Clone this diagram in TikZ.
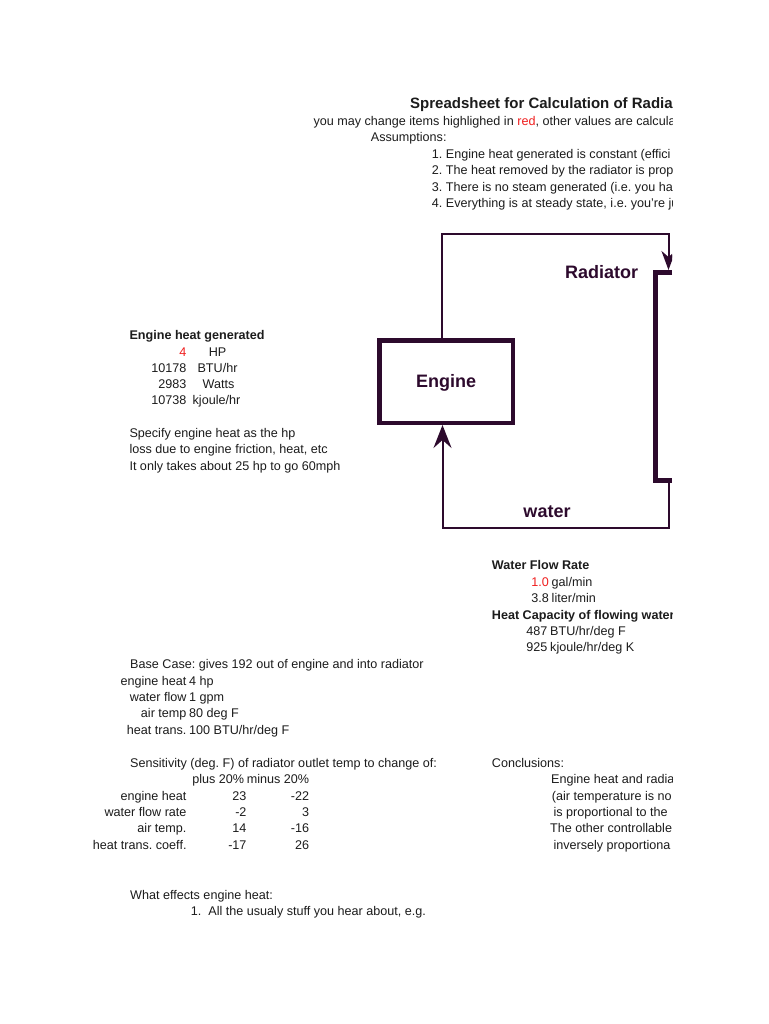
\documentclass[tikz,border=0pt]{standalone}
\usepackage{fontspec}
\setmainfont{Liberation Sans}
\usetikzlibrary{arrows.meta}
\definecolor{ink}{RGB}{28,28,28}
\definecolor{redc}{RGB}{240,30,30}
\definecolor{plum}{RGB}{45,10,45}
\frenchspacing
\begin{document}
\begin{tikzpicture}[x=1pt,y=-1pt,
  tl/.style={font=\fontsize{12.6}{15}\selectfont\frenchspacing,inner sep=0pt,text=ink,anchor=base west},
  tr/.style={tl,anchor=base east},
  tc/.style={tl,anchor=base},
  tb/.style={tl,font=\fontsize{12.6}{15}\selectfont\bfseries},
  ttl/.style={tl,font=\fontsize{15}{18}\selectfont\bfseries},
  lab/.style={inner sep=0pt,text=plum,anchor=base,font=\fontsize{18}{21}\selectfont\bfseries},
  pipe/.style={draw=plum,line width=2pt},
  enginebox/.style={draw=plum,line width=4.5pt,minimum width=133.5pt,minimum height=82.5pt,inner sep=0pt},
  radbracket/.style={draw=plum,line width=5pt,line cap=butt,line join=miter},
  tipA/.style={-{Stealth[length=23pt,width=18pt,inset=8pt]}},
  tipB/.style={-{Stealth[length=19pt,width=14pt,inset=6pt]}}]
\useasboundingbox (0,0) rectangle (768,1024);
\fill[white] (0,0) rectangle (768,1024);
\begin{scope}
\clip (0,0) rectangle (672,1024);
% header
\node[ttl] (title) at (410,108.5) {Spreadsheet for Calculation of Radia};
\node[tl] (h1) at (313.3,126) {you may change items highlighed in \textcolor{redc}{red}, other values are calcula};
\node[tl] (h2) at (370.7,142) {Assumptions:};
\node[tl] (a1) at (431.7,158.5) {1. Engine heat generated is constant (effici};
\node[tl] (a2) at (431.7,175) {2. The heat removed by the radiator is prop};
\node[tl] (a3) at (431.7,191.5) {3. There is no steam generated (i.e. you ha};
\node[tl] (a4) at (431.7,208) {4. Everything is at steady state, i.e. you're ju};
% engine heat block
\node[tb] (eh) at (129.3,339.5) {Engine heat generated};
\node[tr,text=redc] (v1) at (186.7,356) {4};
\node[tc] (u1) at (217.5,356) {HP};
\node[tr] (v2) at (186.7,372) {10178};
\node[tc] (u2) at (217.5,372) {BTU/hr};
\node[tr] (v3) at (186.7,388) {2983};
\node[tc] (u3) at (218.5,388) {Watts};
\node[tr] (v4) at (186.7,404.5) {10738};
\node[tc] (u4) at (216.5,404.5) {kjoule/hr};
\node[tl] (s1) at (129.3,437.5) {Specify engine heat as the hp};
\node[tl] (s2) at (129.3,453.5) {loss due to engine friction, heat, etc};
\node[tl] (s3) at (129.3,470) {It only takes about 25 hp to go 60mph};
% water flow block
\node[tb] (wf) at (491.7,569.5) {Water Flow Rate};
\node[tr,text=redc] (w1) at (549,586) {1.0};
\node[tl] (wu1) at (551.5,586) {gal/min};
\node[tr] (w2) at (549,602.5) {3.8};
\node[tl] (wu2) at (551.5,602.5) {liter/min};
\node[tb] (hc) at (491.7,619) {Heat Capacity of flowing water};
\node[tr] (c1) at (547.5,635.5) {487};
\node[tl] (cu1) at (550,635.5) {BTU/hr/deg F};
\node[tr] (c2) at (547.5,651.5) {925};
\node[tl] (cu2) at (550,651.5) {kjoule/hr/deg K};
% base case
\node[tl] (bc) at (130,668.5) {Base Case: gives 192 out of engine and into radiator};
\node[tr] (b1) at (186.7,685) {engine heat};
\node[tl] (bv1) at (189,685) {4 hp};
\node[tr] (b2) at (186.7,701.5) {water flow};
\node[tl] (bv2) at (189,701.5) {1 gpm};
\node[tr] (b3) at (186.7,717.5) {air temp};
\node[tl] (bv3) at (189,717.5) {80 deg F};
\node[tr] (b4) at (186.7,734) {heat trans.};
\node[tl] (bv4) at (189,734) {100 BTU/hr/deg F};
% sensitivity
\node[tl] (sn) at (130,767.5) {Sensitivity (deg. F) of radiator outlet temp to change of:};
\node[tr] (p1) at (244.3,783.5) {plus 20\%};
\node[tr] (p2) at (309.3,783.5) {minus 20\%};
\node[tr] (r1) at (186.7,800) {engine heat};
\node[tr] (r1a) at (246.7,800) {23};
\node[tr] (r1b) at (309.3,800) {-22};
\node[tr] (r2) at (186.7,816.5) {water flow rate};
\node[tr] (r2a) at (246.7,816.5) {-2};
\node[tr] (r2b) at (309.3,816.5) {3};
\node[tr] (r3) at (186.7,832.5) {air temp.};
\node[tr] (r3a) at (246.7,832.5) {14};
\node[tr] (r3b) at (309.3,832.5) {-16};
\node[tr] (r4) at (186.7,849) {heat trans. coeff.};
\node[tr] (r4a) at (246.7,849) {-17};
\node[tr] (r4b) at (309.3,849) {26};
% conclusions
\node[tl] (cn) at (491.7,767.5) {Conclusions:};
\node[tl] (cn1) at (551,783.5) {Engine heat and radia};
\node[tl] (cn2) at (551.7,800) {(air temperature is no};
\node[tl] (cn3) at (553.3,816.5) {is proportional to the};
\node[tl] (cn4) at (550,832.5) {The other controllable};
\node[tl] (cn5) at (553.3,849) {inversely proportiona};
% what effects
\node[tl] (we) at (130,899.5) {What effects engine heat:};
\node[tl] (we1) at (190.7,915.5) {1.\ \ All the usualy stuff you hear about, e.g.};
% diagram
\node[enginebox] (engine) at (446,381.5) {};
\node[lab] (englab) at (446,387.7) {Engine};
\node[lab] (radlab) at (601.5,278.3) {Radiator};
\node[lab] (waterlab) at (547,517.5) {water};
\coordinate (radin) at (668.5,270);
\coordinate (radout) at (668.5,483);
\coordinate (topcorner) at (668.5,234);
\coordinate (botcorner) at (668.5,527.5);
\draw[radbracket] (672,272.5) -- (655.5,272.5) -- (655.5,480.5) -- (672,480.5);
\draw[pipe,tipB] ([xshift=-4pt]engine.north) |- (topcorner) -- (radin);
\draw[pipe,tipA] (radout) -- (botcorner) -| ([xshift=-3.5pt]engine.south);
\end{scope}
\end{tikzpicture}
\end{document}
